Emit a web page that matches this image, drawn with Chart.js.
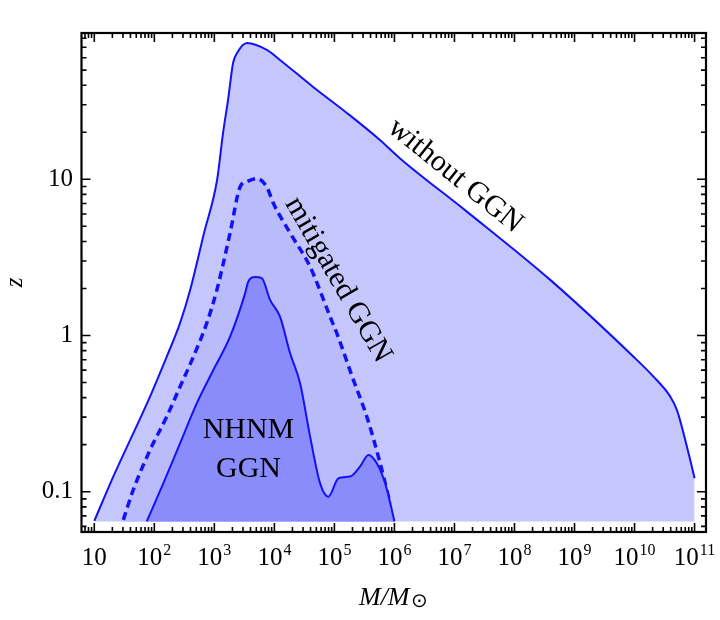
<!DOCTYPE html>
<html>
<head>
<meta charset="utf-8">
<script src="https://cdn.jsdelivr.net/npm/chart.js@4.4.1/dist/chart.umd.min.js"></script>
<style>
  html, body { margin: 0; padding: 0; background: #fff; }
  #wrap { width: 720px; height: 620px; position: relative; }
</style>
</head>
<body>
<div id="wrap"><canvas id="chart"></canvas></div>
<script>
// mass M/Msun and reachable redshift z
const outerMass = [10, 20.7, 44.7, 84.8, 161, 268, 396, 673, 1110, 1396, 1691, 2050, 2390, 3510, 7470, 12400, 44200, 1.63e5, 5.78e5, 1.24e6, 1.61e7, 3.94e8, 9.62e9, 2.07e10, 3.94e10, 5.09e10, 7.94e10, 1e11];
const outerZ = [0.065, 0.125, 0.237, 0.406, 0.732, 1.2, 1.96, 4.53, 9.9, 19.8, 32.2, 55.5, 64.3, 74.5, 67.3, 58.1, 39.0, 26.5, 17.8, 13.6, 6.21, 2.27, 0.731, 0.545, 0.406, 0.333, 0.176, 0.122];

const mitMass = [30.4, 44.7, 84.8, 161, 268, 447, 747, 1102, 1827, 2680, 3470, 5090, 7470, 9620, 18300, 39400, 84700, 1.1e5, 2.07e5, 3.47e5, 5.78e5, 8.47e5];
const mitZ = [0.066, 0.103, 0.185, 0.302, 0.47, 0.731, 1.2, 1.96, 4.53, 8.93, 9.66, 10.1, 8.93, 7.02, 4.53, 2.75, 1.32, 1.03, 0.52, 0.302, 0.152, 0.084];

const innerMass = [74.7, 141, 268, 509, 962, 1827, 3250, 3650, 4770, 6160, 8470, 12400, 18300, 26800, 39400, 57800, 79400, 1.17e5, 1.83e5, 2.68e5, 3.69e5, 5.09e5, 7e5, 9.6e5, 1e6];
const innerZ = [0.0645, 0.113, 0.204, 0.368, 0.601, 0.982, 1.86, 2.2, 2.37, 2.33, 1.69, 1.32, 0.769, 0.494, 0.225, 0.113, 0.0929, 0.122, 0.125, 0.145, 0.172, 0.152, 0.113, 0.0692, 0.0645];

const fillBase = 0.0645;

const xTickVals = [10, 1e2, 1e3, 1e4, 1e5, 1e6, 1e7, 1e8, 1e9, 1e10, 1e11];
const xTickBase = '10';
const xTickExp = ['', '2', '3', '4', '5', '6', '7', '8', '9', '10', '11'];
const yTickVals = [0.1, 1, 10];
const yTickText = ['0.1', '1', '10'];

// region labels: text, mass, z, rotation (deg)
const labelText = ['without GGN', 'mitigated GGN', 'NHNM', 'GGN'];
const labelMass = [1.03e7, 1.15e5, 3.7e3, 3.7e3];
const labelZ = [10.5, 2.27, 0.248, 0.1397];
const labelAngle = [39, 60, 0, 0];

const serif = "'Liberation Serif', 'Times New Roman', serif";
const lineBlue = '#1212f4';

function toPoints(xs, ys) {
  return xs.map((m, i) => ({ x: m, y: ys[i] }));
}

// inward ticks on all four sides, frame, x tick labels with exponents, x title
const frameTicks = {
  id: 'frameTicks',
  afterDraw(chart) {
    const { ctx, chartArea: a, scales: { x, y } } = chart;
    ctx.save();
    ctx.strokeStyle = '#000';
    ctx.lineWidth = 1.6;
    ctx.beginPath();
    for (let k = 0; k <= 11; k++) {
      for (let m = 1; m <= 9; m++) {
        const v = m * Math.pow(10, k);
        if (v < x.min || v > x.max) continue;
        const px = x.getPixelForValue(v);
        const len = m === 1 ? 9 : 5;
        ctx.moveTo(px, a.bottom); ctx.lineTo(px, a.bottom - len);
        ctx.moveTo(px, a.top); ctx.lineTo(px, a.top + len);
      }
    }
    for (let k = -2; k <= 1; k++) {
      for (let m = 1; m <= 9; m++) {
        const v = m * Math.pow(10, k);
        if (v < y.min || v > y.max) continue;
        const py = y.getPixelForValue(v);
        const len = m === 1 ? 9 : 5;
        ctx.moveTo(a.left, py); ctx.lineTo(a.left + len, py);
        ctx.moveTo(a.right, py); ctx.lineTo(a.right - len, py);
      }
    }
    ctx.stroke();
    ctx.lineWidth = 2.2;
    ctx.strokeRect(a.left, a.top, a.width, a.height);

    // x tick labels: 10 with raised exponent
    ctx.fillStyle = '#000';
    ctx.textBaseline = 'alphabetic';
    ctx.textAlign = 'left';
    const baseY = a.bottom + 33;
    xTickVals.forEach((v, i) => {
      ctx.font = '25px ' + serif;
      const wb = ctx.measureText(xTickBase).width;
      ctx.font = '16px ' + serif;
      const we = xTickExp[i] ? ctx.measureText(xTickExp[i]).width + 1 : 0;
      const left = x.getPixelForValue(v) - (wb + we) / 2;
      ctx.font = '25px ' + serif;
      ctx.fillText(xTickBase, left, baseY);
      if (xTickExp[i]) {
        ctx.font = '16px ' + serif;
        ctx.fillText(xTickExp[i], left + wb + 1, baseY - 10);
      }
    });

    // x axis title M/M_sun
    const cx = (a.left + a.right) / 2;
    ctx.font = 'italic 26px ' + serif;
    const wt = ctx.measureText('M/M').width;
    const tx = cx - (wt + 19) / 2;
    ctx.fillText('M/M', tx, 605);
    ctx.font = '20px ' + serif;
    ctx.textBaseline = 'middle';
    ctx.textAlign = 'center';
    ctx.fillText('⊙', tx + wt + 10, 602);
    ctx.restore();
  }
};

const regionLabels = {
  id: 'regionLabels',
  afterDatasetsDraw(chart) {
    const { ctx, scales: { x, y } } = chart;
    ctx.save();
    ctx.fillStyle = '#000';
    ctx.font = '30px ' + serif;
    ctx.textAlign = 'center';
    ctx.textBaseline = 'middle';
    labelText.forEach((t, i) => {
      ctx.save();
      ctx.translate(x.getPixelForValue(labelMass[i]), y.getPixelForValue(labelZ[i]));
      ctx.rotate(labelAngle[i] * Math.PI / 180);
      ctx.fillText(t, 0, 0);
      ctx.restore();
    });
    ctx.restore();
  }
};

const ctx = document.getElementById('chart').getContext('2d');
new Chart(ctx, {
  type: 'line',
  data: {
    datasets: [
      {
        label: 'NHNM GGN',
        data: toPoints(innerMass, innerZ),
        borderColor: lineBlue,
        borderWidth: 2,
        backgroundColor: '#8a8cfb',
        fill: { value: fillBase },
        cubicInterpolationMode: 'monotone',
        pointRadius: 0
      },
      {
        label: 'mitigated GGN',
        data: toPoints(mitMass, mitZ),
        borderColor: lineBlue,
        borderWidth: 3.5,
        borderDash: [8, 5],
        backgroundColor: '#babbfa',
        fill: { value: fillBase },
        cubicInterpolationMode: 'monotone',
        pointRadius: 0
      },
      {
        label: 'without GGN',
        data: toPoints(outerMass, outerZ),
        borderColor: lineBlue,
        borderWidth: 2,
        backgroundColor: '#c5c6fb',
        fill: { value: fillBase },
        cubicInterpolationMode: 'monotone',
        pointRadius: 0
      }
    ]
  },
  options: {
    responsive: true,
    maintainAspectRatio: false,
    animation: false,
    layout: { padding: { top: 33, right: 14, left: 0, bottom: 0 } },
    plugins: {
      legend: { display: false },
      tooltip: { enabled: false }
    },
    scales: {
      x: {
        type: 'logarithmic',
        min: 6.12,
        max: 1.55e11,
        grid: { display: false, drawTicks: false },
        border: { display: false },
        afterFit: (s) => { s.height = 88; },
        afterBuildTicks: (s) => { s.ticks = xTickVals.map(v => ({ value: v })); },
        ticks: { display: false }
      },
      y: {
        type: 'logarithmic',
        min: 0.0552,
        max: 86.4,
        grid: { display: false, drawTicks: false },
        border: { display: false },
        afterFit: (s) => { s.width = 81.5; },
        afterBuildTicks: (s) => { s.ticks = yTickVals.map(v => ({ value: v })); },
        ticks: {
          autoSkip: false,
          padding: 8.5,
          color: '#000',
          font: { family: serif, size: 25 },
          callback: (v, i) => yTickText[i]
        },
        title: {
          display: true,
          text: 'z',
          color: '#000',
          font: { family: serif, size: 25, style: 'italic' },
          padding: { top: 0, bottom: 0 }
        }
      }
    }
  },
  plugins: [frameTicks, regionLabels]
});
</script>
</body>
</html>
